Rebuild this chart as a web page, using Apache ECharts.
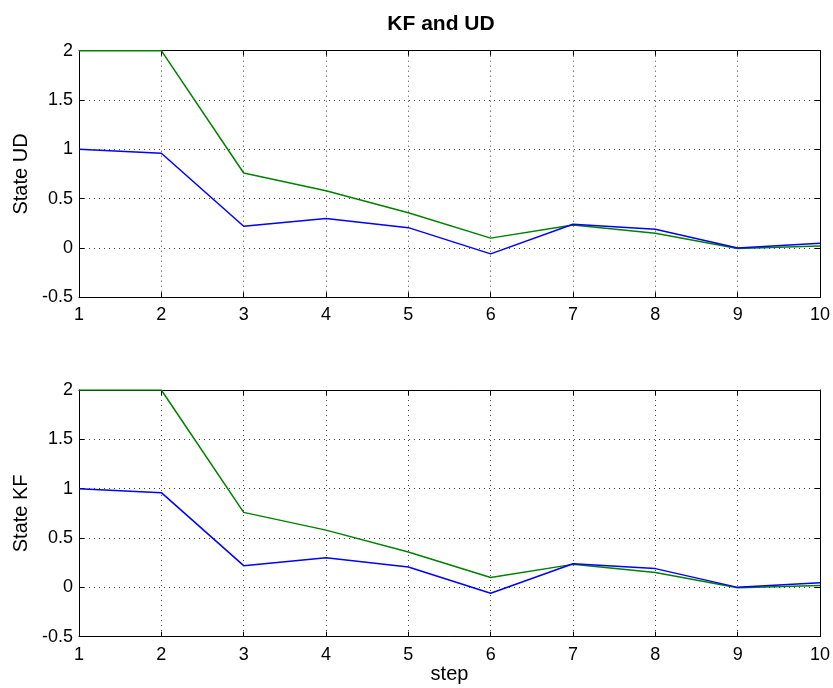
<!DOCTYPE html>
<html><head><meta charset="utf-8">
<script src="https://cdn.jsdelivr.net/npm/echarts@6/dist/echarts.min.js"></script>
<style>html,body{margin:0;padding:0;background:#fff}#c{width:833px;height:688px}</style>
</head><body><div id="c"></div>
<script>
var steps = [1,2,3,4,5,6,7,8,9,10];
var udBlue  = [1.0, 0.96, 0.22, 0.30, 0.206, -0.06, 0.24, 0.19, 0.0, 0.047];
var udGreen = [2.0, 2.0, 0.76, 0.58, 0.358, 0.10, 0.233, 0.15, -0.005, 0.02];
var kfBlue  = [1.0, 0.96, 0.22, 0.30, 0.206, -0.06, 0.24, 0.19, 0.0, 0.047];
var kfGreen = [2.0, 2.0, 0.76, 0.58, 0.358, 0.10, 0.233, 0.15, -0.005, 0.02];
var titleText = 'KF and UD';
var yNames = ['State UD','State KF'];
var xName = 'step';

var FONT = 'Liberation Sans';
function pairs(ys){return steps.map(function(x,i){return [x, ys[i]];});}
var grids = [
  {left:79, right:11, top:50.7, height:246.6},
  {left:79, right:11, top:390, height:246.7}
];
var xAxes = [], yAxes = [];
grids.forEach(function(g, gi){
  ['bottom','top'].forEach(function(pos){
    xAxes.push({
      type:'value', gridIndex:gi, position:pos, min:1, max:10, interval:1,
      axisLine:{show:true, onZero:false, lineStyle:{color:'#000', width:1}},
      axisTick:{show:true, inside:true, length:5, lineStyle:{color:'#000'}},
      axisLabel:{show:pos==='bottom', color:'#000', fontFamily:FONT, fontSize:18, margin:9},
      splitLine:{show:pos==='bottom', lineStyle:{color:'#444', type:[1,4], width:1}},
      name:(pos==='bottom' && gi===1)?xName:'', nameLocation:'middle', nameGap:26,
      nameTextStyle:{color:'#000', fontFamily:FONT, fontSize:20}
    });
  });
  ['left','right'].forEach(function(pos){
    yAxes.push({
      type:'value', gridIndex:gi, position:pos, min:-0.5, max:2, interval:0.5,
      axisLine:{show:true, onZero:false, lineStyle:{color:'#000', width:1}},
      axisTick:{show:true, inside:true, length:5, lineStyle:{color:'#000'}},
      axisLabel:{show:pos==='left', color:'#000', fontFamily:FONT, fontSize:18, margin:6},
      splitLine:{show:pos==='left', lineStyle:{color:'#444', type:[1,4], width:1}},
      name:pos==='left'?yNames[gi]:'', nameLocation:'middle', nameGap:43,
      nameTextStyle:{color:'#000', fontFamily:FONT, fontSize:20}
    });
  });
});
function line(data, color, gi){
  return {type:'line', data:pairs(data), xAxisIndex:gi*2, yAxisIndex:gi*2,
    showSymbol:false, symbol:'none', lineStyle:{color:color, width:1.5}, itemStyle:{color:color}, z:3, animation:false};
}
var chart = echarts.init(document.getElementById('c'), null, {renderer:'canvas'});
chart.setOption({
  backgroundColor:'#fff',
  animation:false,
  title:{text:titleText, left:436, textAlign:'center', top:9,
    textStyle:{color:'#000', fontFamily:FONT, fontSize:21, fontWeight:'bold'}},
  grid:grids,
  xAxis:xAxes, yAxis:yAxes,
  series:[line(udGreen,'#008000',0), line(udBlue,'#0000ff',0), line(kfGreen,'#008000',1), line(kfBlue,'#0000ff',1)]
});
</script></body></html>
